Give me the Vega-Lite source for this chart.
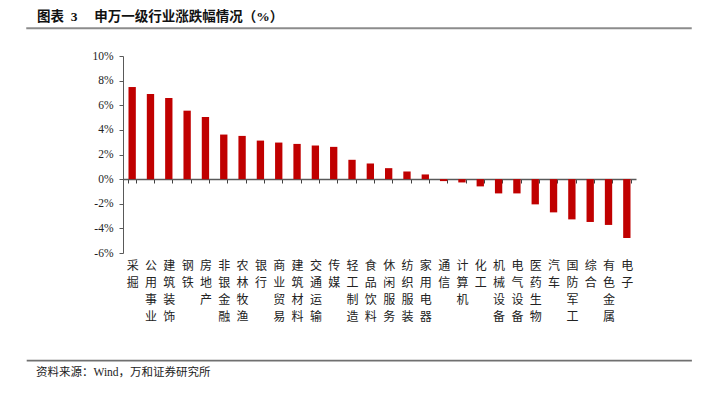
{
  "$schema": "https://vega.github.io/schema/vega-lite/v6.json",
  "background": "white",
  "padding": {"left": 26, "top": 8, "right": 0, "bottom": 0},
  "config": {"view": {"stroke": null}, "concat": {"spacing": 0}},
  "spacing": 37,
  "vconcat": [
    {
      "spacing": 20,
      "vconcat": [
        {
          "width": 664,
          "height": 0.5,
          "view": {"stroke": "#8c8c8c", "strokeWidth": 1.5},
          "title": {
            "text": "图表\u00a0\u00a03\u00a0\u00a0\u00a0\u00a0\u00a0申万一级行业涨跌幅情况（%）",
            "anchor": "start",
            "orient": "top",
            "dx": 10,
            "offset": 5,
            "font": "Liberation Serif, Noto Sans CJK SC",
            "fontSize": 13.5,
            "fontWeight": "bold",
            "color": "#111111"
          },
          "data": {"values": []},
          "mark": {"type": "point", "opacity": 0},
          "encoding": {}
        },
        {
          "spacing": 0,
          "hconcat": [
            {
              "width": 64,
              "height": 0.5,
              "data": {"values": []},
              "mark": {"type": "point", "opacity": 0},
              "encoding": {}
            },
            {
              "width": 513,
              "height": 197,
              "data": {
                "values": [
                  {"industry": "采掘", "change": 7.48},
                  {"industry": "公用事业", "change": 6.91},
                  {"industry": "建筑装饰", "change": 6.59},
                  {"industry": "钢铁", "change": 5.56},
                  {"industry": "房地产", "change": 5.05},
                  {"industry": "非银金融", "change": 3.62},
                  {"industry": "农林牧渔", "change": 3.51},
                  {"industry": "银行", "change": 3.13},
                  {"industry": "商业贸易", "change": 2.97},
                  {"industry": "建筑材料", "change": 2.86},
                  {"industry": "交通运输", "change": 2.73},
                  {"industry": "传媒", "change": 2.62},
                  {"industry": "轻工制造", "change": 1.57},
                  {"industry": "食品饮料", "change": 1.27},
                  {"industry": "休闲服务", "change": 0.89},
                  {"industry": "纺织服装", "change": 0.62},
                  {"industry": "家用电器", "change": 0.38},
                  {"industry": "通信", "change": -0.16},
                  {"industry": "计算机", "change": -0.27},
                  {"industry": "化工", "change": -0.59},
                  {"industry": "机械设备", "change": -1.16},
                  {"industry": "电气设备", "change": -1.16},
                  {"industry": "医药生物", "change": -2.05},
                  {"industry": "汽车", "change": -2.70},
                  {"industry": "国防军工", "change": -3.27},
                  {"industry": "综合", "change": -3.48},
                  {"industry": "有色金属", "change": -3.72},
                  {"industry": "电子", "change": -4.78}
                ]
              },
              "mark": {"type": "bar", "color": "#C00000"},
              "encoding": {
                "x": {
                  "field": "industry",
                  "type": "nominal",
                  "sort": null,
                  "scale": {"paddingInner": 0.6, "paddingOuter": 0.3},
                  "axis": {
                    "title": null,
                    "orient": "bottom",
                    "offset": -74,
                    "labelAngle": 0,
                    "labelExpr": "split(datum.label, '')",
                    "labelPadding": 77,
                    "labelLineHeight": 17,
                    "labelFontSize": 12,
                    "labelFont": "Noto Sans CJK SC",
                    "labelColor": "#222222",
                    "labelBaseline": "top",
                    "labelOverlap": false,
                    "labelBound": false,
                    "tickBand": "extent",
                    "tickSize": 4,
                    "tickColor": "#404040",
                    "domainColor": "#595959",
                    "domainWidth": 1.3
                  }
                },
                "y": {
                  "field": "change",
                  "type": "quantitative",
                  "scale": {"domain": [-6, 10], "nice": false},
                  "axis": {
                    "title": null,
                    "values": [-6, -4, -2, 0, 2, 4, 6, 8, 10],
                    "labelExpr": "datum.value + '%'",
                    "grid": false,
                    "tickSize": 4,
                    "labelPadding": 6,
                    "labelFont": "Liberation Serif",
                    "labelFontSize": 11.5,
                    "labelColor": "#222222",
                    "domainColor": "#595959",
                    "tickColor": "#595959"
                  }
                }
              }
            }
          ]
        }
      ]
    },
    {
      "width": 664,
      "height": 0.5,
      "view": {"stroke": "#707070", "strokeWidth": 1.2},
      "title": {
        "text": "资料来源：Wind，万和证券研究所",
        "anchor": "start",
        "orient": "bottom",
        "dx": 9,
        "offset": 6,
        "font": "Liberation Serif, Noto Sans CJK SC",
        "fontSize": 11.5,
        "fontWeight": "normal",
        "color": "#222222"
      },
      "data": {"values": []},
      "mark": {"type": "point", "opacity": 0},
      "encoding": {}
    }
  ]
}
